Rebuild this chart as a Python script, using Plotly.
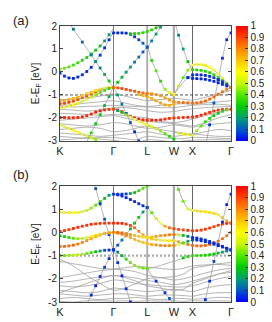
import numpy as np
import plotly.graph_objects as go

N = None

# ---------------- k-path / axes data ----------------
K_POS = [0.0, 0.313, 0.510, 0.666, 0.775, 1.0]
K_LABELS = ["K", "Γ", "L", "W", "X", "Γ"]
SEG_STEPS = [12, 8, 6, 4, 9]
COARSE_K = [0.0, 0.078, 0.156, 0.235, 0.313, 0.379, 0.444, 0.510, 0.588,
            0.666, 0.720, 0.775, 0.850, 0.925, 1.0]
Y_TICKS = [2, 1, 0, -1, -2, -3]
Y_TICK_TEXT = ["2", "1", "0", "-1", "-2", "-3"]
CB_TICKS = [0, 0.1, 0.2, 0.3, 0.4, 0.5, 0.6, 0.7, 0.8, 0.9, 1]
CB_TEXT = ["0", "0.1", "0.2", "0.3", "0.4", "0.5", "0.6", "0.7", "0.8", "0.9", "1"]
REF_LEVEL = -1

# ---------------- panel (a): gray bands on coarse k nodes ----------------
GA1 = [-1.45, -1.42, -1.35, -1.30, -1.25, -1.35, -1.45, -1.50, -1.45, -1.40, -1.38, -1.40, -1.35, -1.30, -1.25]
GA2 = [-1.50, -1.52, -1.50, -1.48, -1.45, -1.48, -1.50, -1.52, -1.55, -1.55, -1.50, -1.45, -1.42, -1.40, -1.45]
GA3 = [-1.62, -1.66, -1.70, -1.65, -1.55, -1.55, -1.60, -1.68, -1.75, -1.72, -1.65, -1.60, -1.55, -1.52, -1.50]
GA4 = [-1.80, -1.82, -1.85, -1.88, -1.85, -1.90, -1.95, -2.00, -2.15, -2.20, -2.15, -2.05, -1.90, -1.75, -1.62]
GA5 = [-2.10, -2.05, -2.00, -1.95, -1.90, -2.00, -2.10, -2.15, -2.20, -2.25, -2.30, -2.35, -2.20, -2.00, -1.85]
GA6 = [-2.25, -2.30, -2.35, -2.30, -2.20, -2.25, -2.35, -2.45, -2.40, -2.30, -2.35, -2.40, -2.30, -2.25, -2.20]
GA7 = [-2.50, -2.45, -2.40, -2.45, -2.60, -2.55, -2.45, -2.35, -2.50, -2.60, -2.65, -2.70, -2.60, -2.50, -2.55]
GA8 = [-2.65, -2.70, -2.75, -2.80, -2.75, -2.70, -2.65, -2.60, -2.70, -2.80, -2.75, -2.70, -2.75, -2.80, -2.80]
GA9 = [-2.80, -2.85, -2.90, -2.85, -2.85, -2.90, -2.95, -2.80, -2.85, -2.90, -2.90, -2.85, -2.85, -2.88, -2.90]
GA10 = [-2.95, -2.92, -2.85, -2.92, -2.97, -3.05, -3.10, -2.95, -2.98, -3.05, -3.00, -2.97, -2.95, -2.95, -2.97]
GA11 = [-1.20, -1.18, -1.12, -1.05, -0.95, -1.05, -1.15, -1.25, -1.20, -1.15, -1.18, -1.22, -1.10, -0.95, -0.80]

# ---------------- panel (a): projected bands on fine k grid (energy, weight) ----------------
A_U1_E = [-0.05, -0.18, -0.26, -0.28, -0.22, -0.12, 0.02, 0.20, 0.45, 0.73, 1.05, 1.40, 1.70,
          1.70, 1.70, 1.69, 1.64, 1.53, 1.40, 1.25, 1.08,
          1.35, 1.65, 1.95, 2.25, N, N,
          N, N, N, N,
          N, N, N, N, N, N, N, N, N]
A_U1_W = [0.05, 0.05, 0.04, 0.05, 0.05, 0.06, 0.05, 0.05, 0.08, 0.06, 0.05, 0.05, 0.05,
          0.05, 0.05, 0.05, 0.05, 0.06, 0.08, 0.10, 0.08,
          0.15, 0.20, 0.20, N, N, N,
          N, N, N, N,
          N, N, N, N, N, N, N, N, N]
A_U2_E = [0.12, 0.16, 0.22, 0.30, 0.40, 0.51, 0.63, 0.78, 0.95, 1.13, 1.35, 1.62, 1.90,
          N, N, N, 1.66, 1.67, 1.68, 1.71, 1.76,
          1.83, 1.92, 2.03, N, N, N,
          N, N, N, N,
          N, N, N, N, N, N, N, N, N]
A_U2_W = [0.45, 0.42, 0.40, 0.38, 0.36, 0.34, 0.33, 0.32, 0.30, 0.27, 0.22, 0.20, N,
          N, N, N, 0.30, 0.33, 0.35, 0.35, 0.35,
          0.35, 0.32, N, N, N, N,
          N, N, N, N,
          N, N, N, N, N, N, N, N, N]
A_S_E = [N, N, 2.14, 1.86, 1.58, 1.30, 1.02, 0.74, 0.45, 0.17, -0.11, -0.39, -0.67,
         -0.45, -0.23, -0.01, 0.21, 0.43, 0.65, 0.87, 1.08,
         0.50, 0.05, -0.40, -0.75, -0.90, -0.97,
         -0.60, -0.25, 0.08, 0.30,
         0.33, 0.32, 0.28, 0.20, 0.08, -0.08, -0.27, -0.48, -0.67]
A_S_W = [N, N, 0.20, 0.15, N, 0.12, N, 0.15, 0.20, 0.15, 0.25, 0.30, 0.30,
         0.30, 0.25, 0.20, 0.20, 0.15, 0.15, 0.10, 0.10,
         0.35, 0.40, 0.35, 0.45, 0.55, 0.60,
         0.50, 0.40, 0.45, 0.60,
         0.60, 0.60, 0.62, 0.60, 0.60, 0.58, 0.55, 0.50, 0.45]
A_GX_E = [N] * 26 + [2.30, 1.60, 1.00, 0.45, 0.10,
                     0.09, 0.07, 0.03, -0.03, -0.12, -0.23, -0.36, -0.51, -0.67]
A_GX_W = [N] * 26 + [N, 0.15, 0.20, 0.30, 0.35,
                     0.35, 0.35, 0.35, 0.35, 0.35, 0.38, 0.40, 0.40, 0.42]
A_BX1_E = [N] * 26 + [-0.97, -0.70, -0.45, -0.25, -0.13,
                      -0.12, -0.13, -0.15, -0.19, -0.25, -0.33, -0.43, -0.55, -0.67]
A_BX1_W = [N] * 26 + [N, N, N, 0.10, 0.05,
                      0.05, 0.04, 0.05, 0.05, 0.06, 0.05, 0.05, 0.08, 0.10]
A_BX2_E = [N] * 29 + [-0.24, -0.28,
                      -0.29, -0.30, -0.32, -0.36, -0.41, -0.47, -0.54, -0.61, -0.67]
A_BX2_W = [N] * 29 + [0.05, 0.04,
                      0.03, 0.04, 0.03, 0.04, 0.05, 0.04, 0.05, 0.06, N]
A_BS_E = [N] * 33 + [-3.30, -2.30, -1.35, -0.35, 0.60, 1.40, 1.70]
A_BS_W = [N] * 33 + [N, 0.05, 0.10, 0.05, 0.05, 0.05, 0.05]
A_R1_E = [-1.38, -1.36, -1.32, -1.27, -1.20, -1.12, -1.04, -0.95, -0.87, -0.79, -0.73, -0.69, -0.67,
          -0.69, -0.72, -0.76, -0.80, -0.84, -0.88, -0.91, -0.93,
          -0.95, -0.98, -1.03, -1.12, -1.22, -1.30,
          -1.32, -1.33, -1.34, -1.35,
          -1.34, -1.31, -1.26, -1.18, -1.08, -0.97, -0.86, -0.76, -0.67]
A_R1_W = [0.92, 0.90, 0.92, 0.90, 0.90, 0.88, 0.90, 0.88, 0.88, 0.86, 0.85, 0.85, 0.85,
          0.88, 0.90, 0.90, 0.88, 0.86, 0.86, 0.84, 0.82,
          0.80, 0.78, 0.76, 0.75, 0.78, 0.80,
          0.82, 0.84, 0.85, 0.85,
          0.85, 0.85, 0.86, 0.86, 0.85, 0.84, 0.84, 0.82, 0.80]
A_OR_E = [-1.25, -1.24, -1.20, -1.15, -1.09, -1.02, -0.95, -0.88, -0.81, -0.75, -0.71, -0.68, -0.67,
          N, N, N, N, N, -0.98, -1.03, -1.08,
          -1.15, -1.25, -1.35, -1.43, -1.45, -1.40,
          N, N, N, N,
          N, N, N, N, N, N, N, N, N]
A_OR_W = [0.75, 0.75, 0.74, 0.72, 0.72, 0.70, 0.70, 0.68, 0.66, 0.65, 0.62, 0.60, N,
          N, N, N, N, N, 0.72, 0.72, 0.74,
          0.74, 0.75, 0.76, 0.75, 0.74, 0.72,
          N, N, N, N,
          N, N, N, N, N, N, N, N, N]
A_YE_E = [-1.55, -1.53, -1.49, -1.43, -1.36, -1.28, -1.19, -1.09, -0.99, -0.89, -0.80, -0.72, -0.67] + [N] * 27
A_YE_W = [0.60, 0.62, 0.60, 0.60, 0.58, 0.55, 0.55, 0.50, 0.45, 0.40, 0.38, 0.35, N] + [N] * 27
A_R2_E = [-1.98, -1.98, -1.99, -1.99, -1.98, -1.95, -1.90, -1.83, -1.75, -1.69, -1.65, -1.63, -1.62,
          -1.65, -1.72, -1.82, -1.92, -2.00, -2.05, -2.08, -2.09,
          -2.10, -2.10, -2.08, -2.05, -2.02, -2.00,
          -1.99, -1.98, -1.97, -1.96,
          -1.93, -1.88, -1.82, -1.76, -1.70, -1.66, -1.63, -1.62, -1.62]
A_R2_W = [0.95, 0.96, 0.95, 0.94, 0.95, 0.95, 0.94, 0.95, 0.96, 0.95, 0.94, 0.93, 0.92,
          0.92, 0.93, 0.94, 0.95, 0.95, 0.96, 0.95, 0.95,
          0.95, 0.96, 0.95, 0.95, 0.94, 0.93,
          0.93, 0.94, 0.95, 0.95,
          0.95, 0.95, 0.94, 0.94, 0.93, 0.93, 0.92, 0.92, 0.92]
A_LY1_E = [-2.30, -2.38, -2.46, -2.54, -2.62, -2.70, -2.78, -2.86, -2.94, N, N, N, N] + [N] * 27
A_LY1_W = [0.55, 0.55, 0.58, 0.60, 0.60, 0.58, 0.55, 0.50, 0.45, N, N, N, N] + [N] * 27
A_LS_E = [N, N, N, N, N, N, -3.05, -2.65, -2.25, -1.86, -1.46, -1.07, -0.67,
          -1.00, -1.40, -1.80, -2.20, -2.60, -3.00, N, N] + [N] * 19
A_LS_W = [N, N, N, N, N, N, N, 0.35, 0.30, 0.30, 0.25, 0.25, N,
          0.20, 0.15, 0.10, 0.10, 0.05, 0.05, N, N] + [N] * 19
A_LY2_E = [N] * 12 + [-1.62,
                      -1.68, -1.76, -1.86, -1.96, -2.06, -2.15, -2.23, -2.30,
                      -2.38, -2.47, -2.57, -2.68, -2.80, -2.92] + [N] * 13
A_LY2_W = [N] * 12 + [N,
                      0.20, 0.30, 0.45, 0.55, 0.60, 0.60, 0.60, 0.58,
                      0.55, 0.50, 0.45, 0.40, 0.35, 0.30] + [N] * 13
A_LY3_E = [N] * 26 + [-2.60, -2.66, -2.70, -2.73, -2.75,
                      -2.55, -2.35, -2.17, -2.02, -1.90, -1.80, -1.71, -1.65, -1.62]
A_LY3_W = [N] * 26 + [N, 0.55, 0.58, 0.60, 0.55,
                      0.45, 0.40, 0.35, 0.35, 0.30, 0.30, 0.35, 0.40, N]

# ---------------- panel (b): gray bands on coarse k nodes ----------------
GB1 = [-1.25, -1.35, -1.45, -1.55, -1.57, -1.52, -1.47, -1.50, -1.55, -1.60, -1.55, -1.45, -1.40, -1.38, -1.42]
GB2 = [-1.95, -1.85, -1.75, -1.65, -1.60, -1.62, -1.70, -1.85, -1.95, -2.05, -2.00, -1.90, -1.75, -1.62, -1.55]
GB3 = [-2.15, -2.10, -2.00, -1.92, -1.87, -1.90, -1.97, -2.07, -2.15, -2.25, -2.20, -2.10, -1.95, -1.80, -1.72]
GB4 = [-2.30, -2.35, -2.30, -2.20, -2.05, -2.10, -2.20, -2.25, -2.30, -2.35, -2.35, -2.30, -2.15, -2.00, -1.90]
GB5 = [-2.50, -2.55, -2.60, -2.55, -2.40, -2.45, -2.50, -2.55, -2.50, -2.45, -2.50, -2.55, -2.40, -2.30, -2.25]
GB6 = [-2.65, -2.70, -2.75, -2.70, -2.65, -2.65, -2.70, -2.75, -2.70, -2.70, -2.72, -2.75, -2.65, -2.60, -2.60]
GB7 = [-2.85, -2.80, -2.85, -2.90, -2.85, -2.85, -2.80, -2.85, -2.90, -2.85, -2.85, -2.88, -2.85, -2.80, -2.82]
GB8 = [-2.97, -3.00, -2.95, -2.95, -2.96, -2.95, -2.97, -2.95, -2.96, -2.95, -2.97, -2.95, -2.96, -2.95, -2.96]
GB9 = [-1.15, -1.45, -1.85, -2.20, -2.50, -2.40, -2.20, -2.00, -1.95, -1.90, -1.80, -1.55, -1.45, -1.35, -1.30]
GB10 = [-2.60, -2.40, -2.20, -2.00, -1.85, -1.95, -2.10, -2.30, -2.40, -2.50, -2.45, -2.20, -2.00, -1.80, -1.65]

# ---------------- panel (b): projected bands on fine k grid ----------------
B_T_E = [0.88, 0.86, 0.85, 0.85, 0.86, 0.90, 0.95, 1.05, 1.18, 1.33, 1.47, 1.60, 1.65,
         1.65, 1.65, 1.66, 1.68, 1.72, 1.80, 1.90, 2.00,
         2.10, N, N, N, N, N] + [N] * 13
B_T_W = [0.60, 0.62, 0.62, 0.60, 0.58, 0.55, 0.50, 0.45, 0.40, 0.35, 0.30, 0.20, 0.05,
         0.05, 0.05, 0.08, 0.20, 0.30, 0.35, 0.40, 0.40,
         N, N, N, N, N, N] + [N] * 13
B_BT_E = [N] * 12 + [1.65, 1.62, 1.57, 1.50, 1.42, 1.33, 1.24, 1.15, 1.08] + [N] * 19
B_BT_W = [N] * 12 + [N, 0.05, 0.05, 0.04, 0.05, 0.05, 0.06, 0.05, 0.05] + [N] * 19
B_S_E = [N, N, N, N, N, N, N, 2.55, 1.89, 1.23, 0.57, -0.09, -0.75,
         -0.55, -0.33, -0.10, 0.15, 0.40, 0.65, 0.88, 1.08,
         0.85, 0.60, 0.40, 0.27, 0.20, 0.16,
         0.13, 0.11, 0.09, 0.07,
         0.08, 0.10, 0.14, 0.19, 0.25, 0.31, 0.36, 0.39, 0.40]
B_S_W = [N, N, N, N, N, N, N, N, 0.10, 0.05, 0.10, 0.05, 0.05,
         0.10, 0.15, 0.20, 0.25, 0.30, 0.30, 0.20, 0.10,
         0.40, 0.50, 0.60, 0.75, 0.85, 0.90,
         0.90, 0.90, 0.92, 0.92,
         0.92, 0.92, 0.92, 0.92, 0.92, 0.92, 0.92, 0.95, 0.95]
B_R2_E = [0.05, 0.08, 0.12, 0.17, 0.22, 0.27, 0.31, 0.35, 0.37, 0.39, 0.40, 0.40, 0.40,
          0.40, 0.39, 0.36, 0.30, 0.20, 0.05, -0.10, -0.22,
          -0.28, -0.31, -0.33, -0.35, -0.36, -0.36,
          -0.40, -0.46, -0.52, -0.56,
          -0.58, -0.58, -0.56, -0.52, -0.46, -0.38, -0.27, -0.14, 0.00]
B_R2_W = [0.92, 0.93, 0.92, 0.94, 0.93, 0.92, 0.93, 0.94, 0.93, 0.92, 0.93, 0.94, 0.95,
          0.95, 0.95, 0.92, 0.90, 0.85, 0.80, 0.75, 0.70,
          0.68, 0.65, 0.62, 0.60, 0.62, 0.65,
          0.75, 0.80, 0.82, 0.85,
          0.85, 0.86, 0.86, 0.85, 0.85, 0.84, 0.84, 0.83, 0.82]
B_G3_E = [-0.15, -0.18, -0.22, -0.25, -0.27, -0.26, -0.22, -0.17, -0.12, -0.07, -0.03, -0.01, 0.00,
          -0.03, -0.08, -0.15, -0.22, -0.30, -0.37, -0.43, -0.48,
          -0.52, -0.54, -0.56, -0.57, -0.57, -0.56,
          -0.52, -0.45, -0.38, -0.32,
          -0.33, -0.36, -0.40, -0.45, -0.51, -0.57, -0.63, -0.69, -0.75]
B_G3_W = [0.30, 0.32, 0.35, 0.40, 0.45, 0.50, 0.55, 0.60, 0.62, 0.65, 0.70, 0.75, 0.80,
          0.80, 0.80, 0.78, 0.75, 0.72, 0.70, 0.70, 0.70,
          0.75, 0.78, 0.80, 0.80, 0.80, 0.80,
          0.60, 0.40, 0.20, 0.08,
          0.05, 0.05, 0.04, 0.05, 0.05, 0.04, 0.05, 0.05, 0.05]
B_O4_E = [-0.60, -0.60, -0.58, -0.55, -0.50, -0.43, -0.35, -0.27, -0.19, -0.12, -0.06, -0.02, 0.00,
          0.00, -0.02, -0.05, -0.09, -0.13, -0.17, -0.20, -0.22,
          -0.20, -0.17, -0.14, -0.12, -0.10, -0.09,
          -0.10, -0.13, -0.17, -0.22,
          -0.24, -0.28, -0.33, -0.39, -0.45, -0.52, -0.60, -0.68, -0.75]
B_O4_W = [0.85, 0.85, 0.85, 0.85, 0.82, 0.80, 0.78, 0.75, 0.72, 0.70, 0.72, 0.75, 0.80,
          0.85, 0.85, 0.82, 0.78, 0.72, 0.68, 0.65, 0.65,
          0.70, 0.75, 0.78, 0.80, 0.82, 0.82,
          0.50, 0.30, 0.15, 0.05,
          0.05, 0.05, 0.05, 0.04, 0.05, 0.05, 0.05, 0.04, 0.05]
B_G5_E = [-1.00, -1.00, -0.99, -0.98, -0.96, -0.94, -0.91, -0.87, -0.83, -0.80, -0.77, -0.76, -0.75,
          -0.85, -1.00, -1.15, -1.30, -1.42, -1.50, -1.54, -1.55,
          -1.53, -1.48, -1.42, -1.36, -1.30, -1.25,
          -1.18, -1.10, -1.04, -1.00,
          -1.00, -0.99, -0.98, -0.96, -0.93, -0.89, -0.85, -0.80, -0.75]
B_G5_W = [0.40, 0.42, 0.45, 0.48, 0.50, 0.48, 0.42, 0.38, 0.30, 0.20, 0.10, 0.05, 0.05,
          0.15, 0.25, 0.35, 0.42, 0.45, 0.45, 0.42, 0.40,
          N, N, N, N, N, N,
          N, 0.30, 0.35, 0.35,
          0.35, 0.35, 0.33, 0.32, 0.30, 0.28, 0.22, 0.15, 0.08]
B_BD_E = [N, N, N, N, N, N, -3.10, -2.70, -2.30, -1.90, -1.50, -1.13, -0.75,
          -1.30, -1.87, -2.43, -3.00, N, N, N, N] + [N] * 19
B_BD_W = [N, N, N, N, N, N, 0.03, 0.05, 0.03, 0.05, 0.08, 0.05, N,
          0.05, 0.03, 0.05, 0.03, N, N, N, N] + [N] * 19
B_LW_E = [N] * 20 + [-1.55, -1.85, -2.10, -2.35, -2.60, -2.85, -3.10] + [N] * 13
B_LW_W = [N] * 20 + [N, N, 0.05, N, 0.05, 0.10, 0.05] + [N] * 13
B_XS_E = [N] * 33 + [-2.90, -2.10, -1.25, -0.40, 0.45, 1.20, 1.65]
B_XS_W = [N] * 33 + [0.05, 0.05, 0.08, N, 0.05, 0.05, 0.05]
B_XT_E = [N] * 26 + [2.50, 1.85, 1.35, 1.02, 0.95,
                     0.93, 0.91, 0.89, 0.86, 0.82, 0.76, 0.64, 0.50, 0.40]
B_XT_W = [N] * 26 + [N, 0.40, 0.42, 0.55, 0.62,
                     0.65, 0.65, 0.65, 0.65, 0.65, 0.62, 0.70, 0.75, 0.85]

GRAY_A = [GA1, GA2, GA3, GA4, GA5, GA6, GA7, GA8, GA9, GA10, GA11]
PROJ_A = [(A_U1_E, A_U1_W), (A_U2_E, A_U2_W), (A_S_E, A_S_W), (A_GX_E, A_GX_W),
          (A_BX1_E, A_BX1_W), (A_BX2_E, A_BX2_W), (A_BS_E, A_BS_W), (A_R1_E, A_R1_W),
          (A_OR_E, A_OR_W), (A_YE_E, A_YE_W), (A_R2_E, A_R2_W), (A_LY1_E, A_LY1_W),
          (A_LS_E, A_LS_W), (A_LY2_E, A_LY2_W), (A_LY3_E, A_LY3_W)]
GRAY_B = [GB1, GB2, GB3, GB4, GB5, GB6, GB7, GB8, GB9, GB10]
PROJ_B = [(B_T_E, B_T_W), (B_BT_E, B_BT_W), (B_S_E, B_S_W), (B_R2_E, B_R2_W),
          (B_G3_E, B_G3_W), (B_O4_E, B_O4_W), (B_G5_E, B_G5_W), (B_BD_E, B_BD_W),
          (B_LW_E, B_LW_W), (B_XS_E, B_XS_W), (B_XT_E, B_XT_W)]

# fine k grid along the path
FINE_K = [K_POS[0]]
for a, b, n in zip(K_POS[:-1], K_POS[1:], SEG_STEPS):
    FINE_K += list(np.linspace(a, b, n + 1)[1:])

COLORSCALE = [[0.0, "#0000ff"], [0.1, "#0058c8"], [0.2, "#00a070"], [0.3, "#00cc00"],
              [0.4, "#50e800"], [0.5, "#c8f800"], [0.6, "#ffff00"], [0.7, "#ffc400"],
              [0.8, "#ff8800"], [0.9, "#ff4400"], [1.0, "#ff0000"]]

GRAY = "#a0a0a0"
fig = go.Figure()


def add_panel(xa, ya, cax, gray, proj):
    for band in gray:
        fig.add_trace(go.Scatter(x=COARSE_K, y=band, mode="lines", xaxis=xa, yaxis=ya,
                                 line=dict(color=GRAY, width=0.8, shape="spline", smoothing=0.8),
                                 hoverinfo="skip"))
    for e, w in proj:
        fig.add_trace(go.Scatter(x=FINE_K, y=e, mode="lines", xaxis=xa, yaxis=ya,
                                 line=dict(color=GRAY, width=0.8, shape="spline", smoothing=0.5),
                                 hoverinfo="skip"))
    mx, my, mc = [], [], []
    for e, w in proj:
        for k, ev, wv in zip(FINE_K, e, w):
            if ev is not None and wv is not None:
                mx.append(k); my.append(ev); mc.append(wv)
    fig.add_trace(go.Scatter(x=mx, y=my, mode="markers", xaxis=xa, yaxis=ya,
                             marker=dict(symbol="square", size=2.8, color=mc, coloraxis=cax,
                                         line=dict(width=0))))


add_panel("x", "y", "coloraxis", GRAY_A, PROJ_A)
add_panel("x2", "y2", "coloraxis2", GRAY_B, PROJ_B)

DOM_A = [0.5835, 1.0]
DOM_B = [0.0, 0.42]
axis_common = dict(showline=True, linecolor="#444", linewidth=1, mirror=True,
                   showgrid=False, zeroline=False)
xa_common = dict(axis_common, range=[0, 1], tickvals=K_POS, ticktext=K_LABELS,
                 ticks="", tickfont=dict(size=11, color="#222"))
ya_common = dict(axis_common, range=[-3, 2], tickvals=Y_TICKS, ticktext=Y_TICK_TEXT,
                 ticks="inside", ticklen=3, tickcolor="#444", mirror="ticks",
                 tickfont=dict(size=10, color="#222"),
                 title=dict(text="E-E<sub>F</sub> [eV]", font=dict(size=10, color="#222"), standoff=6))


def cbar(ymid, length):
    return dict(x=1.028, xanchor="left", y=ymid, yanchor="middle", len=length, lenmode="fraction",
                thickness=12, xpad=0, ypad=0, outlinewidth=0, tickvals=CB_TICKS, ticktext=CB_TEXT,
                ticks="inside", ticklen=3, tickcolor="#333", tickfont=dict(size=10, color="#222"))


shapes = []
for xr, yr in (("x", "y"), ("x2", "y2")):
    for pos, col, wid in ((K_POS[1], "#777", 1.0), (K_POS[2], "#aaa", 1.8),
                          (K_POS[3], "#aaa", 2.2), (K_POS[4], "#666", 1.0)):
        shapes.append(dict(type="line", xref=xr, yref=yr + " domain", x0=pos, x1=pos, y0=0, y1=1,
                           line=dict(color=col, width=wid), layer="below"))
shapes.append(dict(type="line", xref="x", yref="y", x0=0, x1=1, y0=REF_LEVEL, y1=REF_LEVEL,
                   line=dict(color="#222", width=0.8, dash="3px,2px"), layer="below"))
shapes.append(dict(type="line", xref="x2", yref="y2", x0=0, x1=1, y0=REF_LEVEL, y1=REF_LEVEL,
                   line=dict(color="#aaa", width=2.2, dash="2px,2px"), layer="below"))

fig.update_layout(
    width=272, height=322, margin=dict(l=52, r=43, t=18, b=19),
    paper_bgcolor="white", plot_bgcolor="white", showlegend=False,
    font=dict(family="Liberation Sans, Arial, sans-serif", size=10, color="#222"),
    xaxis=dict(xa_common, domain=[0, 1], anchor="y"),
    yaxis=dict(ya_common, domain=DOM_A, anchor="x"),
    xaxis2=dict(xa_common, domain=[0, 1], anchor="y2"),
    yaxis2=dict(ya_common, domain=DOM_B, anchor="x2"),
    coloraxis=dict(cmin=0, cmax=1, colorscale=COLORSCALE, colorbar=cbar(sum(DOM_A) / 2, DOM_A[1] - DOM_A[0])),
    coloraxis2=dict(cmin=0, cmax=1, colorscale=COLORSCALE, colorbar=cbar(sum(DOM_B) / 2, DOM_B[1] - DOM_B[0])),
    shapes=shapes,
    annotations=[
        dict(text="(a)", xref="paper", yref="paper", x=-0.285, y=1.021, xanchor="left",
             yanchor="middle", showarrow=False, font=dict(size=13, color="#222")),
        dict(text="(b)", xref="paper", yref="paper", x=-0.285, y=0.461, xanchor="left",
             yanchor="middle", showarrow=False, font=dict(size=13, color="#222")),
    ],
)

fig.write_html("out.html")
